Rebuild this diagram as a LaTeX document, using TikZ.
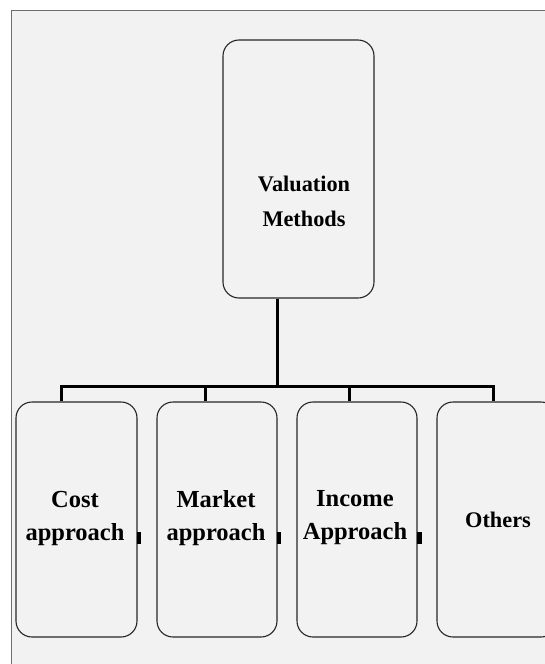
\documentclass[tikz,border=0pt]{standalone}
\usepackage{fontspec}
\setmainfont{Liberation Serif}
\begin{document}
\begin{tikzpicture}[x=1pt,y=-1pt,
  box/.style={draw=black!85, line width=1.1pt, rounded corners=16pt, fill=none, inner sep=0pt},
  lbl/.style={align=center, inner sep=0pt, font=\bfseries\fontsize{24.5}{33}\selectfont},
  lblsmall/.style={align=center, inner sep=0pt, font=\bfseries\fontsize{22.3}{35}\selectfont},
  bus/.style={line width=3pt, black, line join=miter},
  blot/.style={fill=black}]
\useasboundingbox (0,0) rectangle (545,664);
\fill[white] (0,0) rectangle (545,664);
\clip (0,0) rectangle (545,664);
\draw[fill={rgb,255:red,242;green,242;blue,242}, draw={rgb,255:red,110;green,110;blue,110}, line width=1pt] (11.5,10.5) rectangle (600,700);
% boxes
\node[box, minimum width=151pt, minimum height=258pt] (top) at (298.5,169) {};
\node[box, minimum width=121pt, minimum height=235pt] (cost) at (76.5,519.5) {};
\node[box, minimum width=120pt, minimum height=235pt] (market) at (217,519.5) {};
\node[box, minimum width=120pt, minimum height=235pt] (income) at (357,519.5) {};
\node[box, minimum width=120pt, minimum height=235pt] (others) at (497,519.5) {};
% texts
\node[lblsmall] (ttop) at (304,201) {Valuation\\Methods};
\node[lbl] (tcost) at (75,518) {Cost\\approach};
\node[lbl] (tmarket) at (216,518) {Market\\approach};
\node[lbl] (tincome) at (355,518) {Income\\Approach};
\node[lblsmall] (tothers) at (498,519.5) {Others};
% connectors
\coordinate (j) at (277,386);
\coordinate (b1) at (61,386);
\coordinate (b2) at (205,386);
\coordinate (b3) at (349,386);
\coordinate (b4) at (493,386);
\draw[bus] (j |- top.south) -- (j);
\draw[bus] (b1 |- cost.north) -- (b1) -- (b4) -- (b4 |- others.north);
\draw[bus] (b2) -- (b2 |- market.north);
\draw[bus] (b3) -- (b3 |- income.north);
% small marks
\fill[blot] (136.5,532) rectangle (141,544);
\fill[blot] (276.5,532) rectangle (281,544);
\fill[blot] (416.5,532) rectangle (422,544);
\end{tikzpicture}
\end{document}
